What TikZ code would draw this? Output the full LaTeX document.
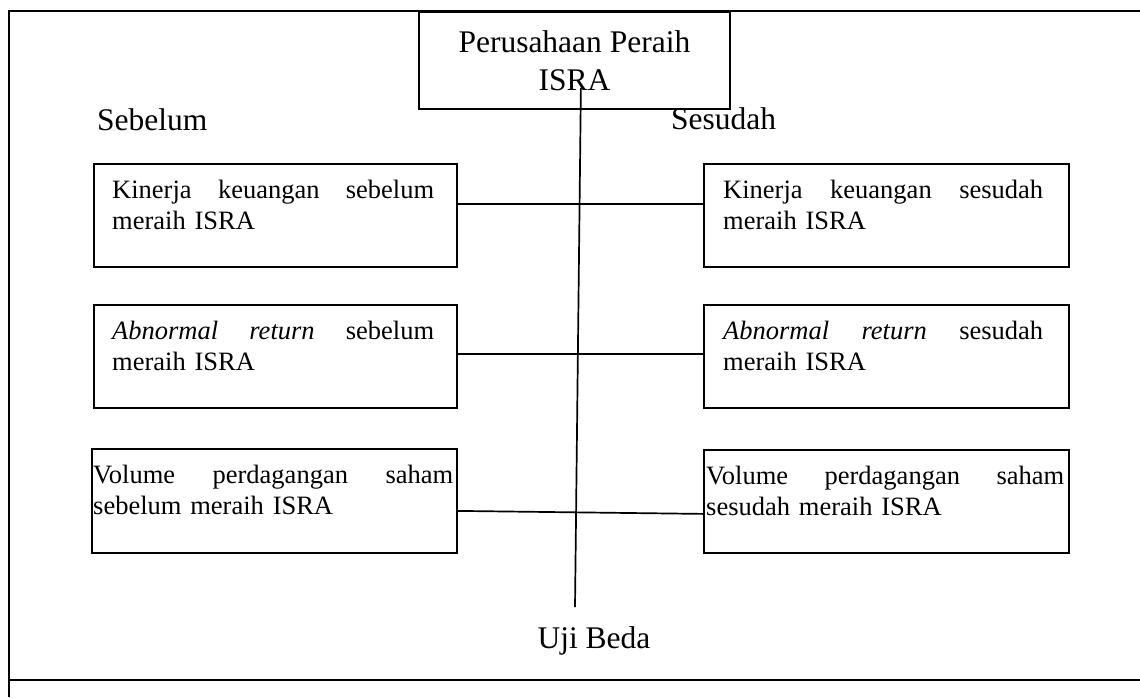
\documentclass[tikz,border=0pt]{standalone}
\usepackage{fontspec}
\setmainfont{Liberation Serif}
\begin{document}
\begin{tikzpicture}[x=1pt,y=-1pt,
  frameline/.style={line width=1.8pt},
  conn/.style={line width=1.7pt},
  box/.style={draw, line width=1.8pt, rectangle, inner sep=0pt, anchor=north west},
  bigtxt/.style={font=\fontsize{31.5}{38}\selectfont, inner sep=0pt},
  boxtxt/.style={font=\fontsize{26.5}{31}\selectfont, inner sep=0pt, align=left, anchor=base west}
]
\useasboundingbox (0,0) rectangle (1140,697);
% outer frame
\draw[frameline] (1140,11) -- (9,11) -- (9,697);
\draw[frameline] (9,680) -- (1140,680);
% top node
\node[draw, line width=1.8pt, bigtxt, align=center, minimum width=311pt, minimum height=97pt, anchor=north west] (top) at (418,11) {Perusahaan Peraih\\ISRA};
% column headings
\node[bigtxt, anchor=base west] (sebelum) at (97,130) {Sebelum};
\node[bigtxt, anchor=base west] (sesudah) at (671,129) {Sesudah};
% boxes
\node[box, minimum width=363pt, minimum height=103pt] (b1) at (93,163) {};
\node[box, minimum width=365pt, minimum height=103pt] (c1) at (703,163) {};
\node[box, minimum width=363pt, minimum height=103pt] (b2) at (93,304) {};
\node[box, minimum width=365pt, minimum height=103pt] (c2) at (703,304) {};
\node[box, minimum width=365pt, minimum height=104pt] (b3) at (91,448) {};
\node[box, minimum width=365pt, minimum height=103pt] (c3) at (703,449) {};
% box texts
\node[boxtxt, text width=322pt] (t1) at ([shift={(19pt,-35pt)}]b1.north west) {Kinerja\hfill keuangan\hfill sebelum\\meraih ISRA};
\node[boxtxt, text width=320pt] (u1) at ([shift={(20pt,-35pt)}]c1.north west) {Kinerja\hfill keuangan\hfill sesudah\\meraih ISRA};
\node[boxtxt, text width=322pt] (t2) at ([shift={(19pt,-35pt)}]b2.north west) {\textit{Abnormal}\hfill\textit{return}\hfill sebelum\\meraih ISRA};
\node[boxtxt, text width=320pt] (u2) at ([shift={(20pt,-35pt)}]c2.north west) {\textit{Abnormal}\hfill\textit{return}\hfill sesudah\\meraih ISRA};
\node[boxtxt, text width=360pt] (t3) at ([shift={(2pt,-35pt)}]b3.north west) {Volume\hfill perdagangan\hfill saham\\sebelum meraih ISRA};
\node[boxtxt, text width=358pt] (u3) at ([shift={(3pt,-35pt)}]c3.north west) {Volume\hfill perdagangan\hfill saham\\sesudah meraih ISRA};
% bottom label
\node[bigtxt, anchor=base] (uji) at (594,648) {Uji Beda};
% connectors
\draw[conn] ([yshift=11.5pt]b1.east) -- ([yshift=11.5pt]c1.west);
\draw[conn] ([yshift=2.5pt]b2.east) -- ([yshift=2.5pt]c2.west);
\draw[conn] ([yshift=-10pt]b3.east) -- ([yshift=-12.5pt]c3.west);
\coordinate (vbot) at (575,607);
\draw[conn] ([shift={(6.5pt,22pt)}]top.south) -- (vbot);
\end{tikzpicture}
\end{document}
